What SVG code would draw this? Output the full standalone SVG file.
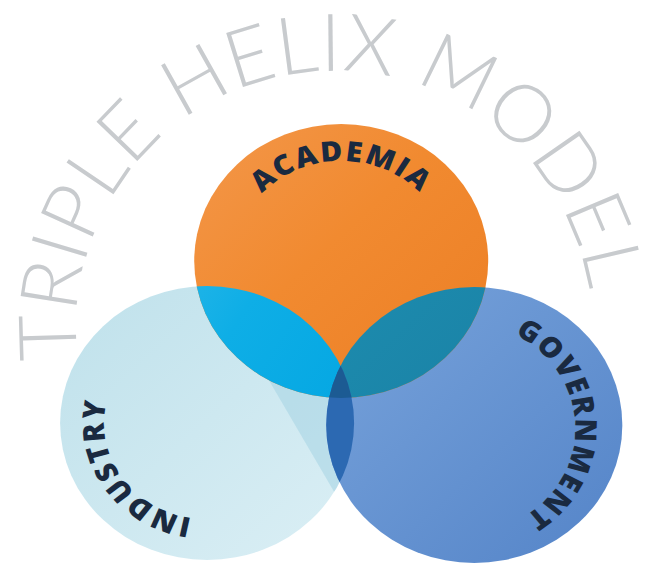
<svg xmlns="http://www.w3.org/2000/svg" width="648" height="563" viewBox="0 0 648 563">
<style>
.title{font-family:"Lato","Open Sans","Liberation Sans",sans-serif;font-weight:300;font-size:80px;fill:#c8cbce;letter-spacing:0.5px}
.label{font-family:"Open Sans","Liberation Sans",sans-serif;font-weight:800;font-size:28px;fill:#1a2a40;letter-spacing:1.8px}
</style>
<defs>
  <linearGradient id="gOrange" x1="0" y1="0" x2="1" y2="1">
    <stop offset="0" stop-color="#f3974a"/>
    <stop offset="0.45" stop-color="#f18a30"/>
    <stop offset="1" stop-color="#ec7e24"/>
  </linearGradient>
  <linearGradient id="gIndustry" x1="0" y1="0" x2="1" y2="1">
    <stop offset="0" stop-color="#bfe1eb"/>
    <stop offset="1" stop-color="#dbeff5"/>
  </linearGradient>
  <linearGradient id="gGov" x1="0" y1="0" x2="1" y2="1">
    <stop offset="0" stop-color="#78a3db"/>
    <stop offset="1" stop-color="#5484c8"/>
  </linearGradient>
  <linearGradient id="gCyan" x1="0" y1="0" x2="1" y2="0.6">
    <stop offset="0" stop-color="#3cbde9"/>
    <stop offset="0.5" stop-color="#0eaee6"/>
    <stop offset="1" stop-color="#03a6e2"/>
  </linearGradient>
  <linearGradient id="gTeal" x1="0" y1="0" x2="1" y2="1">
    <stop offset="0" stop-color="#1d8cae"/>
    <stop offset="1" stop-color="#17789f"/>
  </linearGradient>
  <clipPath id="cOrange"><circle cx="318" cy="261" r="137"/></clipPath>
  <clipPath id="cIndustry"><circle cx="193" cy="423" r="137"/></clipPath>
  <path id="pTitle" d="M368.6,584.7 A258,258 0 1 1 299.4,73.3 A258,258 0 1 1 368.6,584.7"/>
  <path id="pAcademia" d="M318,361 A100,100 0 1 1 318,161 A100,100 0 1 1 318,361"/>
  <path id="pIndustry" d="M272.6,369.3 A96,96 0 1 1 113.4,476.7 A96,96 0 1 1 272.6,369.3"/>
  <path id="pGov" d="M324.1,433.1 A106,106 0 1 1 535.9,422.9 A106,106 0 1 1 324.1,433.1"/>
</defs>
<rect width="648" height="563" fill="#ffffff"/>
<g id="title">
  <text class="title" text-anchor="middle"><textPath href="#pTitle" startOffset="50%">TRIPLE HELIX MODEL</textPath></text>
</g>
<g transform="scale(1.073,1)">
  <g id="industry">
    <circle cx="193" cy="423" r="137" fill="url(#gIndustry)"/>
    <polygon points="196,280 354,570 420,570 420,280" fill="#9ccfe0" opacity="0.45" clip-path="url(#cIndustry)"/>
    <text class="label" text-anchor="middle"><textPath href="#pIndustry" startOffset="50%">INDUSTRY</textPath></text>
  </g>
  <g id="government">
    <circle cx="442" cy="425" r="138" fill="url(#gGov)"/>
    <text class="label" text-anchor="middle"><textPath href="#pGov" startOffset="50%">GOVERNMENT</textPath></text>
  </g>
  <g id="academia">
    <circle cx="318" cy="261" r="137" fill="url(#gOrange)"/>
    <text class="label" text-anchor="middle"><textPath href="#pAcademia" startOffset="50%">ACADEMIA</textPath></text>
  </g>
  <g id="overlaps">
    <circle cx="193" cy="423" r="137" fill="url(#gCyan)" clip-path="url(#cOrange)"/>
    <circle cx="442" cy="425" r="138" fill="url(#gTeal)" clip-path="url(#cOrange)"/>
    <circle cx="442" cy="425" r="138" fill="#2c69b2" clip-path="url(#cIndustry)"/>
    <g clip-path="url(#cOrange)">
      <circle cx="442" cy="425" r="138" fill="#1c5b93" clip-path="url(#cIndustry)"/>
    </g>
  </g>
</g>
</svg>
